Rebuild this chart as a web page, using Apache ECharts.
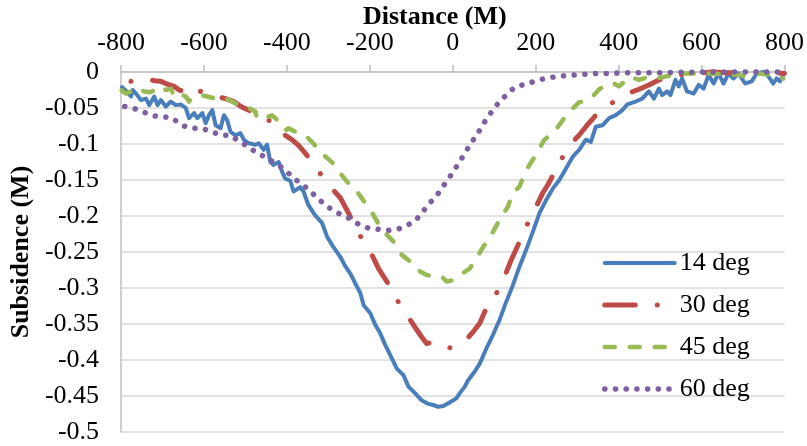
<!DOCTYPE html>
<html>
<head>
<meta charset="utf-8">
<script src="https://cdn.jsdelivr.net/npm/echarts@6/dist/echarts.min.js"></script>
<style>
html,body{margin:0;padding:0;background:#fff;}
#chart{width:807px;height:446px;}
</style>
</head>
<body>
<div id="chart"></div>
<script>
// X axis ticks
const xTicks = [-800, -600, -400, -200, 0, 200, 400, 600, 800];
const seriesNames = ['14 deg', '30 deg', '45 deg', '60 deg'];

// 14 deg
const dist14 = [-798,-788,-776,-772,-764,-752,-740,-732,-720,-712,-704,-692,-680,-668,-656,-644,-636,-624,-616,-604,-596,-588,-580,-572,-560,-552,-544,-536,-524,-512,-504,-492,-476,-468,-456,-448,-440,-432,-420,-412,-404,-392,-384,-376,-368,-360,-348,-332,-315,-303,-288,-271,-259,-247,-233,-223,-215,-199,-187,-175,-163,-151,-135,-119,-107,-91,-75,-59,-47,-35,-23,-11,-7,1,9,17,21,29,37,53,65,81,97,113,129,145,161,177,193,209,225,241,257,273,289,305,321,333,345,361,377,393,409,421,441,457,473,485,497,505,517,525,537,545,553,565,581,593,605,617,629,641,653,665,677,689,705,721,733,749,761,773,781,789,797];
const sub14 = [-0.021,-0.026,-0.034,-0.025,-0.030,-0.039,-0.037,-0.046,-0.034,-0.046,-0.039,-0.048,-0.041,-0.046,-0.045,-0.050,-0.064,-0.057,-0.064,-0.057,-0.071,-0.060,-0.053,-0.074,-0.078,-0.060,-0.067,-0.083,-0.088,-0.085,-0.094,-0.099,-0.101,-0.099,-0.108,-0.101,-0.125,-0.129,-0.125,-0.138,-0.148,-0.151,-0.166,-0.163,-0.160,-0.166,-0.185,-0.199,-0.210,-0.229,-0.243,-0.257,-0.270,-0.280,-0.296,-0.307,-0.324,-0.335,-0.351,-0.363,-0.379,-0.393,-0.412,-0.421,-0.437,-0.446,-0.456,-0.461,-0.4625,-0.465,-0.464,-0.460,-0.458,-0.456,-0.453,-0.446,-0.444,-0.437,-0.428,-0.416,-0.405,-0.384,-0.365,-0.344,-0.319,-0.296,-0.270,-0.247,-0.222,-0.196,-0.178,-0.162,-0.150,-0.134,-0.118,-0.108,-0.094,-0.097,-0.076,-0.074,-0.064,-0.060,-0.053,-0.045,-0.041,-0.037,-0.027,-0.037,-0.023,-0.032,-0.027,-0.032,-0.011,-0.020,-0.009,-0.027,-0.030,-0.018,-0.023,-0.004,-0.016,-0.002,-0.016,-0.002,-0.009,-0.002,-0.016,-0.013,-0.002,0,-0.006,-0.016,-0.009,-0.013,-0.004];

// 30 deg
const dist30 = [-800,-788,-776,-768,-756,-748,-736,-720,-704,-688,-672,-660,-648,-640,-628,-616,-608,-588,-568,-548,-528,-516,-504,-492,-480,-468,-448,-428,-416,-404,-388,-372,-360,-344,-316,-288,-271,-255,-243,-221,-195,-179,-167,-151,-129,-103,-87,-75,-63,-47,-27,-7,13,29,49,65,77,103,125,141,159,179,201,217,229,241,263,289,305,321,345,381,421,449,473,497,520,550,585,625,660,700,753,800];
const sub30 = [-0.006,-0.011,-0.013,-0.011,-0.013,-0.011,-0.010,-0.012,-0.013,-0.017,-0.020,-0.025,-0.027,-0.023,-0.027,-0.025,-0.027,-0.030,-0.034,-0.037,-0.041,-0.046,-0.050,-0.053,-0.057,-0.062,-0.066,-0.071,-0.080,-0.088,-0.094,-0.102,-0.110,-0.121,-0.144,-0.164,-0.175,-0.192,-0.206,-0.230,-0.254,-0.273,-0.284,-0.298,-0.322,-0.344,-0.358,-0.368,-0.377,-0.375,-0.380,-0.383,-0.380,-0.374,-0.361,-0.349,-0.333,-0.310,-0.284,-0.261,-0.238,-0.2125,-0.187,-0.168,-0.157,-0.144,-0.120,-0.097,-0.0875,-0.076,-0.060,-0.044,-0.030,-0.024,-0.018,-0.011,-0.007,-0.004,-0.002,0,-0.001,-0.001,0,-0.002];

// 45 deg
const dist45 = [-800,-788,-776,-764,-756,-744,-730,-716,-708,-692,-680,-672,-660,-644,-636,-632,-620,-608,-592,-572,-556,-548,-536,-524,-512,-492,-476,-472,-460,-444,-436,-428,-416,-404,-396,-380,-364,-352,-340,-312,-288,-271,-251,-231,-211,-191,-175,-159,-139,-123,-103,-79,-63,-43,-27,-15,1,17,41,57,69,85,97,117,133,145,161,177,193,209,221,245,265,285,305,321,337,353,377,389,401,415,429,449,473,493,515,537,549,585,617,650,689,709,737,769,797];
const sub45 = [-0.025,-0.030,-0.027,-0.022,-0.025,-0.027,-0.028,-0.025,-0.020,-0.025,-0.023,-0.034,-0.030,-0.034,-0.041,-0.037,-0.034,-0.032,-0.034,-0.037,-0.039,-0.037,-0.040,-0.0435,-0.048,-0.050,-0.055,-0.064,-0.060,-0.062,-0.060,-0.064,-0.072,-0.081,-0.078,-0.083,-0.086,-0.090,-0.097,-0.115,-0.127,-0.141,-0.155,-0.166,-0.182,-0.199,-0.215,-0.226,-0.238,-0.254,-0.263,-0.277,-0.282,-0.284,-0.284,-0.291,-0.289,-0.282,-0.273,-0.259,-0.247,-0.233,-0.222,-0.201,-0.187,-0.168,-0.159,-0.136,-0.122,-0.106,-0.094,-0.083,-0.067,-0.053,-0.042,-0.040,-0.034,-0.024,-0.016,-0.016,-0.020,-0.013,-0.0065,-0.011,-0.0065,-0.009,-0.006,-0.004,-0.002,-0.002,-0.002,-0.003,-0.004,-0.0065,-0.002,-0.004,-0.009];

// 60 deg
const dist60 = [-800,-772,-748,-724,-700,-676,-654,-632,-608,-584,-560,-536,-516,-492,-472,-452,-428,-408,-388,-369,-349,-332,-313,-292,-270,-247,-227,-204,-180,-156,-131,-108,-87,-71,-55,-39,-25,-10,4,18,31,43,59,70,85,99,115,133,151,175,199,223,249,273,299,323,349,373,420,500,600,700,800];
const sub60 = [-0.047,-0.050,-0.055,-0.061,-0.062,-0.064,-0.074,-0.078,-0.078,-0.082,-0.088,-0.088,-0.096,-0.104,-0.113,-0.118,-0.127,-0.134,-0.145,-0.154,-0.1625,-0.172,-0.182,-0.191,-0.198,-0.204,-0.2115,-0.2167,-0.2185,-0.220,-0.218,-0.2125,-0.2046,-0.193,-0.1815,-0.172,-0.160,-0.148,-0.136,-0.123,-0.1115,-0.099,-0.0875,-0.0745,-0.063,-0.0505,-0.040,-0.0296,-0.0204,-0.017,-0.0125,-0.0088,-0.0065,-0.005,-0.004,-0.003,-0.002,-0.002,-0.001,-0.001,0,0,0];

const pair = (xs, ys) => xs.map((x, i) => [x, ys[i]]);

const colors = ['#4A7EBB', '#BE4B48', '#98B954', '#7D60A0'];
const styles = [
  {width: 4, type: 'solid', cap: 'round', join: 'round'},
  {width: 5, type: [30.5, 22, 0.1, 22.5], cap: 'round', join: 'round'},
  {width: 4.5, type: [10, 15], cap: 'round', join: 'round'},
  {width: 5.5, type: [0.1, 10.6], cap: 'round', join: 'round'}
];
// dash phase anchors: [x of anchor point, position in pattern]
const anchors = [null, [-7, 52.55], [-15, 5], [-180, 0.05]];
const xsList = [dist14, dist30, dist45, dist60];
const ysList = [sub14, sub30, sub45, sub60];
const dataSets = xsList.map((xs, i) => pair(xs, ysList[i]));

const font = '"Liberation Serif", "Times New Roman", serif';
const chart = echarts.init(document.getElementById('chart'), null, {renderer: 'canvas'});
chart.setOption({
  animation: false,
  backgroundColor: '#ffffff',
  title: {
    text: 'Distance (M)', left: 363, top: 4, padding: 0,
    textStyle: {fontFamily: font, fontSize: 26, fontWeight: 'bold', color: '#000'}
  },
  grid: {left: 120, right: 21, top: 72, bottom: 14, containLabel: false},
  legend: {
    orient: 'vertical', left: 602, top: 250, padding: 0, itemWidth: 70, itemHeight: 14, itemGap: 16,
    data: seriesNames,
    itemStyle: {opacity: 0},
    lineStyle: {width: 'inherit', dashOffset: 0},
    textStyle: {fontFamily: font, fontSize: 26, color: '#000', lineHeight: 26}
  },
  xAxis: {
    type: 'value', position: 'top', min: -800, max: 800, interval: 200,
    axisLine: {show: true, onZero: false, lineStyle: {color: '#bfbfbf', width: 1.5}},
    axisTick: {show: true, length: 7, lineStyle: {color: '#bfbfbf', width: 1.5}},
    splitLine: {show: false},
    axisLabel: {fontFamily: font, fontSize: 26, color: '#000', margin: 16}
  },
  yAxis: {
    type: 'value', min: -0.5, max: 0, interval: 0.05,
    name: 'Subsidence (M)', nameLocation: 'middle', nameRotate: 90, nameGap: 84,
    nameTextStyle: {fontFamily: font, fontSize: 26, fontWeight: 'bold', color: '#000'},
    axisLine: {show: true, onZero: false, lineStyle: {color: '#bfbfbf', width: 1.5}},
    axisTick: {show: false},
    splitLine: {show: true, lineStyle: {color: '#d9d9d9', width: 1.5}},
    axisLabel: {fontFamily: font, fontSize: 26, color: '#000', margin: 22}
  },
  series: seriesNames.map((name, i) => ({
    name: name, type: 'line', data: dataSets[i], showSymbol: false, symbol: 'none',
    smooth: false, clip: false,
    itemStyle: {color: colors[i]},
    lineStyle: Object.assign({color: colors[i]}, styles[i])
  }))
});

// align dash phases to the reference using pixel path lengths
const offsets = anchors.map((a, i) => {
  if (!a) return 0;
  const xs = xsList[i], ys = ysList[i];
  const period = styles[i].type.reduce((s, v) => s + v, 0);
  let s = 0;
  let prev = chart.convertToPixel({gridIndex: 0}, [xs[0], ys[0]]);
  for (let k = 1; k < xs.length; k++) {
    const p = chart.convertToPixel({gridIndex: 0}, [xs[k], ys[k]]);
    s += Math.hypot(p[0] - prev[0], p[1] - prev[1]);
    prev = p;
    if (xs[k] === a[0]) break;
  }
  return (((a[1] - s) % period) + period) % period;
});
chart.setOption({
  series: seriesNames.map((name, i) => ({lineStyle: {dashOffset: offsets[i]}}))
});
</script>
</body>
</html>
